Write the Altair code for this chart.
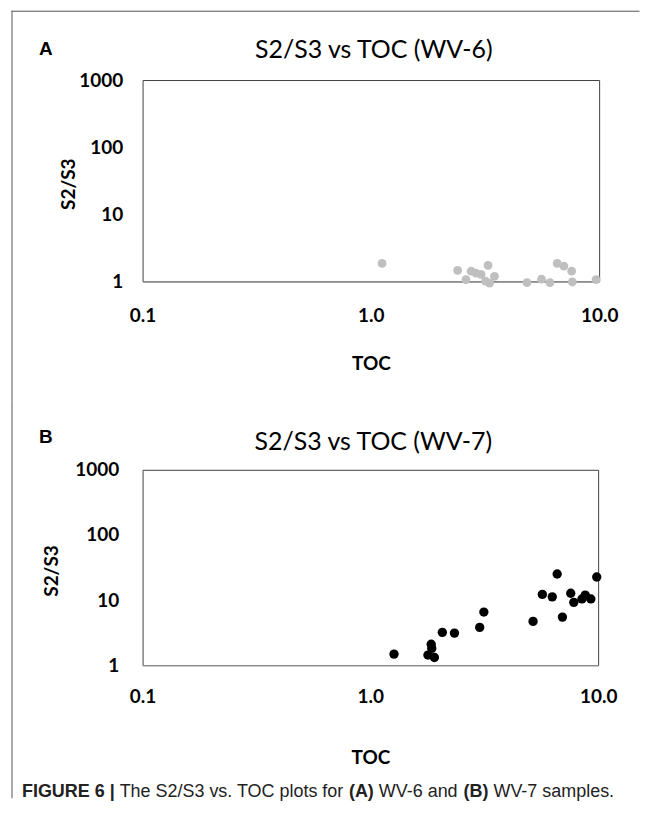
import altair as alt
import pandas as pd

# Panel A (WV-6)
toc_a = [1.12, 2.40, 2.61, 2.75, 2.89, 3.04, 3.18, 3.26, 3.31, 3.48, 4.83, 5.59, 6.09, 6.55, 7.01, 7.58, 7.63, 9.70]
s2s3_a = [1.85, 1.46, 1.06, 1.42, 1.33, 1.27, 1.01, 1.73, 0.94, 1.19, 0.96, 1.08, 0.96, 1.85, 1.69, 1.42, 0.98, 1.06]

# Panel B (WV-7)
toc_b = [1.27, 1.79, 1.85, 1.86, 1.91, 2.07, 2.34, 3.02, 3.15, 5.18, 5.69, 6.29, 6.61, 6.97, 7.58, 7.82, 8.49, 8.78, 9.29, 9.86]
s2s3_b = [1.48, 1.43, 2.10, 1.81, 1.31, 3.19, 3.11, 3.80, 6.54, 4.70, 12.2, 11.2, 25.1, 5.47, 12.7, 9.22, 10.4, 11.9, 10.4, 22.6]

x_ticks = [0.1, 1, 10]
y_ticks = [1, 10, 100, 1000]

titles = ["S2/S3 vs TOC (WV-6)", "S2/S3 vs TOC (WV-7)"]
panel_letters = ["A", "B"]
x_title = "TOC"
y_title = "S2/S3"
caption_parts = [
    ("FIGURE 6 |", "bold", 20),
    ("The S2/S3 vs. TOC plots for", "normal", 118),
    ("(A)", "bold", 348),
    ("WV-6 and", "normal", 378),
    ("(B)", "bold", 463),
    ("WV-7 samples.", "normal", 493),
]

FONT = "Lato"
OX = 141  # page x of both plot areas


def txt(text, x, y, size, weight="normal", align="center", font=FONT, color="#000000"):
    return alt.Chart(pd.DataFrame({"t": [text]})).mark_text(
        align=align, baseline="middle", fontSize=size, fontWeight=weight,
        font=font, color=color
    ).encode(x=alt.value(x), y=alt.value(y), text="t:N")


def rule(x, y, x2=None, y2=None):
    enc = dict(x=alt.value(x), y=alt.value(y))
    if x2 is not None:
        enc["x2"] = alt.value(x2)
    if y2 is not None:
        enc["y2"] = alt.value(y2)
    return alt.Chart(pd.DataFrame({"d": [0]})).mark_rule(
        color="#555555", strokeWidth=1, strokeCap="square"
    ).encode(**enc)


def panel(toc, s2, color, size, w, h, label_pad_x, label_pad_y, ytitle_x, xtitle_y,
          title_y, letter_y, letter, title):
    df = pd.DataFrame({"toc": toc, "s2s3": s2})
    pts = alt.Chart(df).mark_circle(size=size, opacity=1, color=color).encode(
        x=alt.X("toc:Q",
                scale=alt.Scale(type="log", domain=[0.1, 10], nice=False),
                axis=alt.Axis(values=x_ticks, format=".1f", title=x_title,
                              ticks=False, tickSize=0, grid=False, labelFlush=False,
                              labelOverlap=False, labelPadding=label_pad_x, domain=True,
                              domainColor="#8c8c8c", domainWidth=1.3,
                              titleY=xtitle_y, titleBaseline="middle")),
        y=alt.Y("s2s3:Q",
                scale=alt.Scale(type="log", domain=[1, 1000], nice=False),
                axis=alt.Axis(values=y_ticks, format="d", title=y_title,
                              ticks=False, tickSize=0, grid=False, domain=False,
                              labelPadding=label_pad_y, labelOverlap=False,
                              titleX=ytitle_x, titleY=h / 2 + 3, titleAngle=270,
                              titleBaseline="middle")),
    )
    return alt.layer(
        pts,
        txt(letter, 44 - OX, letter_y, 19, "bold", font="Liberation Sans"),
        txt(title, w / 2 + 3, title_y, 25, "normal"),
    ).properties(width=w, height=h)


# Panel A: plot area page (141,79), 458x202
pa = panel(toc_a, s2s3_a, "#bfbfbf", 78, 458, 202, 25, 20, 67 - OX, 82, -30, -31,
           panel_letters[0], titles[0])
pa = alt.layer(
    pa,
    rule(10 - OX, 10 - 79, x2=639 - OX),
    rule(10 - OX, 10 - 79, y2=400 - 79),
)

# Panel B: plot area page (141,469), 457x196
pb = panel(toc_b, s2s3_b, "#000000", 88, 457, 196, 22, 24, 50 - OX, 93, -28, -33,
           panel_letters[1], titles[1])
cap_layers = [txt(t, x - OX, 792 - 469, 18, wgt, align="left",
                  font="Liberation Sans", color="#222222") for (t, wgt, x) in caption_parts]
pb = alt.layer(
    pb,
    rule(10 - OX, 400 - 469, y2=798 - 469),
    *cap_layers,
)

chart = alt.vconcat(pa, pb, spacing=-3).properties(
    padding={"left": 2, "top": 0, "right": 0, "bottom": 0}
).configure_view(
    stroke="#404040", strokeWidth=1
).configure_axis(
    labelFont=FONT, labelFontSize=19, labelFontWeight="bold", labelColor="#000000",
    titleFont=FONT, titleFontSize=19, titleFontWeight="bold", titleColor="#000000",
)

chart.save("out.html", embed_options={"renderer": "svg", "actions": False})
